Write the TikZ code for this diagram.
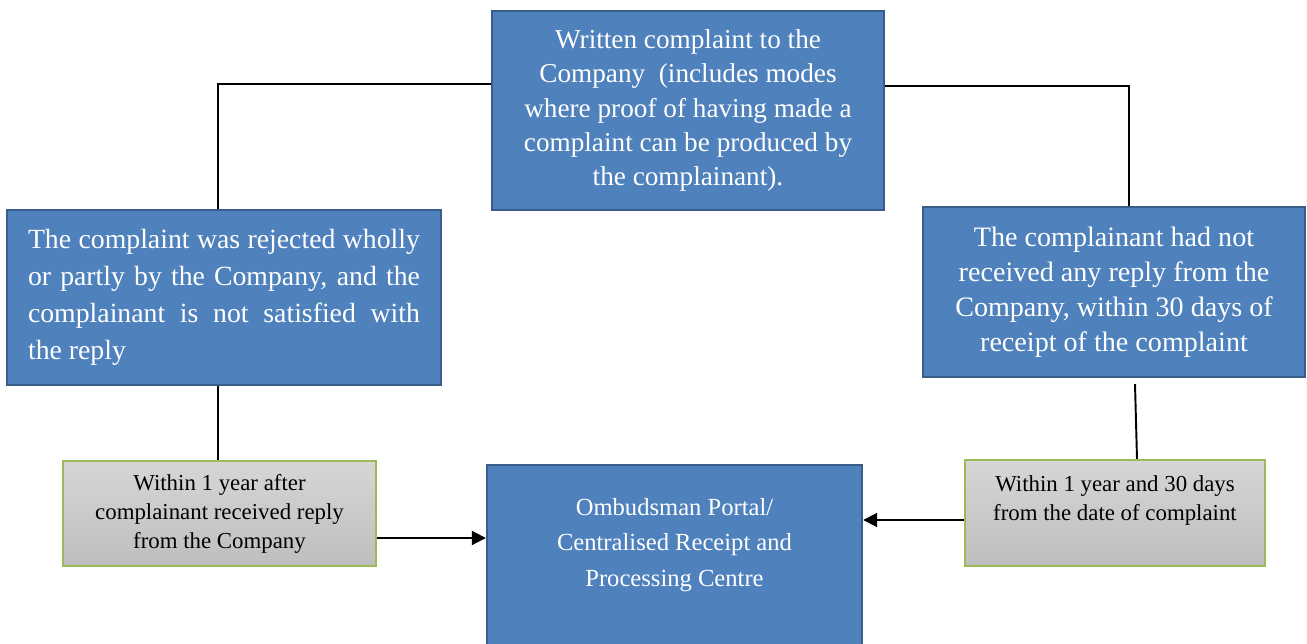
\documentclass[tikz,border=0pt]{standalone}
\usepackage{fontspec}
\setmainfont{Liberation Serif}
\usepackage{tikz}
\usetikzlibrary{arrows.meta}
\definecolor{boxblue}{RGB}{79, 129, 189}
\definecolor{boxedge}{RGB}{56, 93, 138}
\definecolor{greytop}{RGB}{214, 214, 214}
\definecolor{greybot}{RGB}{190, 190, 190}
\definecolor{leaf}{RGB}{155, 187, 89}

\begin{document}
\begin{tikzpicture}[x=0.02cm, y=-0.02cm,
  bluebox/.style={draw=boxedge, line width=1.4pt, fill=boxblue, text=white, inner sep=0pt},
  greybox/.style={draw=leaf, line width=1.2pt, top color=greytop, bottom color=greybot,
    text=black, inner sep=0pt, align=center, font=\fontsize{13}{16.5}\selectfont},
  link/.style={line width=1.1pt},
  arrow/.style={link, -{Triangle[length=0.28cm, width=0.28cm]}}]

  \useasboundingbox (0, 0) rectangle (1307, 644);

  \node[bluebox, minimum width=7.84cm, minimum height=3.98cm, align=center,
    font=\fontsize{15.5}{19.5}\selectfont] (written) at (688, 110.5)
    {Written complaint to the\\Company~ (includes modes\\where proof of having made a\\complaint can be produced by\\the complainant).};

  \node[bluebox, minimum width=8.68cm, minimum height=3.5cm, text width=7.84cm, align=justify,
    font=\fontsize{15.8}{21}\selectfont] (rejected) at (224, 297.5)
    {The complaint was rejected wholly\linebreak or partly by the Company, and the\linebreak complainant is not satisfied with\linebreak the reply};

  \node[bluebox, minimum width=7.64cm, minimum height=3.4cm, align=center,
    font=\fontsize{16}{20}\selectfont] (noreply) at (1114, 292)
    {The complainant had not\\received any reply from the\\Company, within 30 days of\\receipt of the complaint};

  \node[greybox, minimum width=6.26cm, minimum height=2.1cm] (afterreply) at (219.5, 513.5)
    {Within 1 year after\\complainant received reply\\from the Company};

  \node[greybox, minimum width=6cm, minimum height=2.12cm] (afterdays) at (1115, 513)
    {Within 1 year and 30 days\\from the date of complaint\\~};

  \node[bluebox, minimum width=7.5cm, minimum height=3.9cm] (portal) at (674.5, 562.5) {};
  \node[text=white, align=center, font=\fontsize{14}{20}\selectfont] (portaltext) at (674.5, 545)
    {Ombudsman Portal/\\Centralised Receipt and\\Processing Centre};

  \draw[link] (written.west |- 0,84) -| ([xshift=-0.12cm]rejected.north);
  \draw[link] (written.east |- 0,86) -| ([xshift=0.3cm]noreply.north);
  \draw[link] ([xshift=-0.12cm]rejected.south) coordinate (d1) -- (d1 |- afterreply.north);
  \draw[link] ([xshift=0.42cm, yshift=-0.12cm]noreply.south) -- ([xshift=0.44cm]afterdays.north);
  \draw[arrow] ([yshift=-0.49cm]afterreply.east) coordinate (a1) -- (portal.west |- a1);
  \draw[arrow] ([yshift=-0.14cm]afterdays.west) coordinate (a2) -- (portal.east |- a2);

\end{tikzpicture}
\end{document}
